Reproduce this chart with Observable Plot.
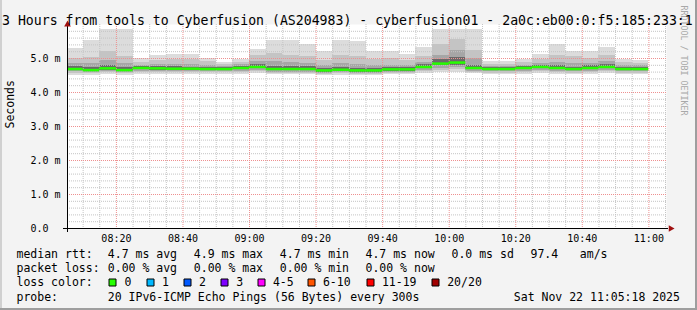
<!DOCTYPE html>
<html><head><meta charset="utf-8">
<script src="https://cdn.jsdelivr.net/npm/d3@7"></script>
<script src="https://cdn.jsdelivr.net/npm/@observablehq/plot@0.6"></script>
<style>
html,body{margin:0;padding:0;background:#f3f3f3;overflow:hidden}
#wrap{position:relative;width:697px;height:310px;background:#f3f3f3;overflow:hidden}
#wrap svg{display:block}
.edge{position:absolute}
</style></head><body>
<div id="wrap"></div>
<script>
const titleText = "3 Hours from tools to Cyberfusion (AS204983) - cyberfusion01 - 2a0c:eb00:0:f5:185:233:1";
const yAxisLabel = "Seconds";
const watermark = "RRDTOOL / TOBI OETIKER";

// interval end times (5-minute steps)
const times = ["08:10","08:15","08:20","08:25","08:30","08:35","08:40","08:45","08:50","08:55",
  "09:00","09:05","09:10","09:15","09:20","09:25","09:30","09:35","09:40","09:45",
  "09:50","09:55","10:00","10:05","10:10","10:15","10:20","10:25","10:30","10:35",
  "10:40","10:45","10:50","10:55","11:00"];
// round trip times in ms (smoke quantiles)
const rttMax = [5.30,5.53,5.85,5.85,5.01,5.09,5.12,5.12,4.99,4.89,4.96,5.26,5.53,5.53,5.40,5.21,5.53,5.50,5.22,5.20,5.13,5.33,5.86,5.86,5.84,4.90,4.90,4.96,5.12,5.42,5.22,5.20,5.32,4.98,4.93];
const rttP90 = [5.00,5.03,5.20,5.06,4.88,4.95,4.98,4.96,4.90,4.82,4.88,5.10,5.15,5.10,5.05,4.95,5.10,5.05,4.98,5.00,4.95,5.05,5.40,5.55,5.25,4.83,4.83,4.88,4.98,5.10,5.05,5.00,5.10,4.88,4.86];
const rttP75 = [4.85,4.86,4.93,4.86,4.80,4.83,4.83,4.81,4.79,4.77,4.81,4.92,4.90,4.88,4.85,4.80,4.85,4.82,4.80,4.80,4.80,4.88,5.10,5.25,5.00,4.77,4.77,4.80,4.85,4.88,4.85,4.85,4.90,4.80,4.78];
const rttP60 = [4.76,4.74,4.79,4.74,4.77,4.76,4.76,4.75,4.74,4.73,4.77,4.82,4.76,4.76,4.76,4.72,4.74,4.72,4.72,4.74,4.74,4.81,4.97,5.02,4.80,4.73,4.73,4.76,4.80,4.78,4.75,4.78,4.81,4.74,4.73];
const rttMedian = [4.69,4.66,4.71,4.66,4.72,4.71,4.70,4.70,4.69,4.69,4.72,4.75,4.69,4.69,4.69,4.65,4.67,4.65,4.65,4.68,4.68,4.75,4.85,4.88,4.72,4.69,4.69,4.72,4.75,4.72,4.69,4.72,4.75,4.69,4.69];
const rttP40 = [4.64,4.61,4.66,4.61,4.67,4.66,4.65,4.65,4.64,4.64,4.67,4.70,4.64,4.64,4.64,4.60,4.62,4.60,4.60,4.63,4.63,4.70,4.78,4.80,4.67,4.64,4.64,4.67,4.70,4.67,4.64,4.67,4.70,4.64,4.64];
const rttP25 = [4.61,4.58,4.62,4.58,4.63,4.63,4.62,4.62,4.61,4.61,4.63,4.66,4.60,4.60,4.60,4.57,4.59,4.57,4.57,4.60,4.60,4.66,4.72,4.74,4.63,4.61,4.61,4.63,4.66,4.63,4.61,4.63,4.66,4.61,4.61];
const rttP10 = [4.57,4.55,4.58,4.55,4.59,4.59,4.58,4.58,4.58,4.58,4.59,4.61,4.56,4.56,4.56,4.54,4.55,4.54,4.54,4.56,4.56,4.61,4.66,4.68,4.59,4.57,4.57,4.59,4.61,4.59,4.57,4.59,4.61,4.57,4.57];
const rttMin = [4.51,4.50,4.52,4.50,4.53,4.53,4.53,4.53,4.53,4.54,4.54,4.55,4.52,4.52,4.52,4.50,4.51,4.50,4.50,4.52,4.52,4.55,4.58,4.60,4.55,4.53,4.53,4.54,4.55,4.54,4.53,4.54,4.55,4.53,4.53];

const xTickLabels = ["08:20","08:40","09:00","09:20","09:40","10:00","10:20","10:40","11:00"];
const yTickValues = [0,1,2,3,4,5];
const yTickLabels = ["0.0","1.0 m","2.0 m","3.0 m","4.0 m","5.0 m"];

const statNames = ["avg","max","min","now"];
const rttStats = [4.7,4.9,4.7,4.7];
const rttSd = 0.0;
const rttAmS = 97.4;
const lossStats = [0,0,0,0];
const lossBins = ["0","1","2","3","4-5","6-10","11-19","20/20"];
const lossColors = ["#26ff00","#00b8ff","#0059ff","#7e00ff","#ff00fe","#ff5500","#ff0000","#a00000"];
const probeText = "20 IPv6-ICMP Echo Pings (56 Bytes) every 300s";
const stamp = "Sat Nov 22 11:05:18 2025";

// ---- build ----
const mono = "DejaVu Sans Mono";
const hm = s => { const [h, m] = s.split(":").map(Number); return new Date(Date.UTC(2025, 10, 22, h, m, 0)); };
const end = new Date(Date.UTC(2025, 10, 22, 11, 5, 18));
const start = new Date(+end - 3 * 3600e3);
const step = 300e3;
const cols = times.map((t, i) => ({
  t0: new Date(+hm(t) - step), t1: hm(t),
  max: rttMax[i], p90: rttP90[i], p75: rttP75[i], p60: rttP60[i], med: rttMedian[i],
  p40: rttP40[i], p25: rttP25[i], p10: rttP10[i], min: rttMin[i]
}));

const W = 697, H = 310, ML = 67, MT = 24, MR = 31, MB = 82;
const majorX = xTickLabels.map(hm);
const minorX = d3.utcMinute.every(5).range(start, end).filter(d => d.getUTCMinutes() % 20 !== 0);
const minorY = d3.range(1, 30).map(i => i / 5).filter(v => Math.abs(v - Math.round(v)) > 1e-9);
const majorY = [1, 2, 3, 4, 5];

const L = (s, x, y, o = {}) => Plot.text([s], {text: d => d, frameAnchor: "top-left", dx: x - ML, dy: y - MT,
  textAnchor: "start", lineAnchor: "bottom", fontFamily: mono, fontSize: 11.5, fill: "#000", ...o});
const layer = (lo, hi, fill) => Plot.rect(cols, {x1: "t0", x2: "t1", y1: lo, y2: hi, fill, clip: true, shapeRendering: "crispEdges"});

const marks = [
  Plot.frame({fill: "#fff", stroke: "none"}),
  layer("min", "max", "#dcdcdc"),
  layer("p10", "p90", "#c4c4c4"),
  layer("p25", "p75", "#a6a6a6"),
  layer("p40", "p60", "#6a6a6a"),
  Plot.ruleX(minorX, {stroke: "#c4c4c4", strokeDasharray: "1,1"}),
  Plot.ruleY(minorY, {stroke: "#c4c4c4", strokeDasharray: "1,1"}),
  Plot.ruleX(majorX, {stroke: "#ee9090", strokeDasharray: "1,1"}),
  Plot.ruleY(majorY, {stroke: "#ee9090", strokeDasharray: "1,1"}),
  Plot.ruleY(cols, {y: "med", x1: "t0", x2: "t1", stroke: lossColors[0], strokeWidth: 2.5, clip: true}),
  Plot.ruleY([0], {stroke: "#000", insetLeft: -4, insetRight: -2}),
  Plot.ruleX([start], {stroke: "#000", insetBottom: -4}),
  Plot.dot([0], {frameAnchor: "top-left", dy: 0, symbol: "triangle", r: 2.5, fill: "#a01010", stroke: "none"}),
  Plot.dot([0], {frameAnchor: "bottom-right", dx: 4.2, symbol: "triangle", rotate: 90, r: 2.5, fill: "#a01010", stroke: "none"}),
  Plot.text(xTickLabels, {x: d => hm(d), text: d => d, frameAnchor: "bottom", lineAnchor: "top", dy: 6, fontSize: 10, fontFamily: mono, fill: "#000"}),
  Plot.text(yTickValues, {y: d => d, text: (d, i) => yTickLabels[i], frameAnchor: "left", dx: -37, textAnchor: "start", fontSize: 10, fontFamily: mono, fill: "#000"}),
  Plot.text([yAxisLabel], {text: d => d, frameAnchor: "left", dx: -57, dy: 2, rotate: -90, fontSize: 11.5, fontFamily: mono, fill: "#000"}),
  Plot.text([watermark], {text: d => d, frameAnchor: "top-right", dx: 20, dy: -19, rotate: 90, textAnchor: "start", fontSize: 8.3, fontFamily: mono, fill: "#a8a8a8"}),
  L(titleText, 1.5, 24, {fontSize: 13.2})
];

// legend rows
const rowY = [257.5, 271.7, 285.9, 300.1];
const colX = [107.3, 193.3, 279.3, 365];
marks.push(L("median rtt:", 16, rowY[0]));
statNames.forEach((n, i) => marks.push(L(`${rttStats[i].toFixed(1)} ms ${n}`, colX[i], rowY[0])));
marks.push(L(`${rttSd.toFixed(1)} ms sd`, 451, rowY[0]));
marks.push(L(rttAmS.toFixed(1), 530, rowY[0]));
marks.push(L("am/s", 579.3, rowY[0]));
marks.push(L("packet loss:", 16, rowY[1]));
statNames.forEach((n, i) => marks.push(L(`${lossStats[i].toFixed(2)} % ${n}`, colX[i], rowY[1])));
marks.push(L("loss color:", 16, rowY[2]));
const boxLeft = [108.3, 145.7, 182.7, 220, 256.7, 306.7, 365.7, 431];
lossBins.forEach((b, i) => {
  const cx = Math.round(boxLeft[i] + 3.8);
  marks.push(Plot.dot([0], {frameAnchor: "top-left", dx: cx - ML, dy: 282 - MT, symbol: "square",
    r: 7 / Math.sqrt(Math.PI), fill: lossColors[i], stroke: "#000", strokeWidth: 1}));
  marks.push(L(b, boxLeft[i] + 15.7, rowY[2]));
});
marks.push(L("probe:", 16, rowY[3]));
marks.push(L(probeText, 107.3, rowY[3]));
marks.push(L(stamp, 513.3, rowY[3]));

const chart = Plot.plot({
  width: W, height: H,
  marginLeft: ML, marginTop: MT, marginRight: MR, marginBottom: MB,
  style: {background: "transparent", fontFamily: mono, overflow: "hidden"},
  x: {type: "utc", domain: [start, end], axis: null},
  y: {domain: [0, 6], range: [H - MB, MT], axis: null},
  marks
});
const wrap = document.getElementById("wrap");
wrap.appendChild(chart);
const edge = (css) => { const e = document.createElement("div"); e.className = "edge"; e.style.cssText = css; wrap.appendChild(e); };
edge("left:0;top:0;width:2px;height:310px;background:#d0d0d0");
edge("right:0;top:0;width:2px;height:310px;background:#9e9e9e");
edge("left:0;bottom:0;width:697px;height:2px;background:#9e9e9e");
</script></body></html>
